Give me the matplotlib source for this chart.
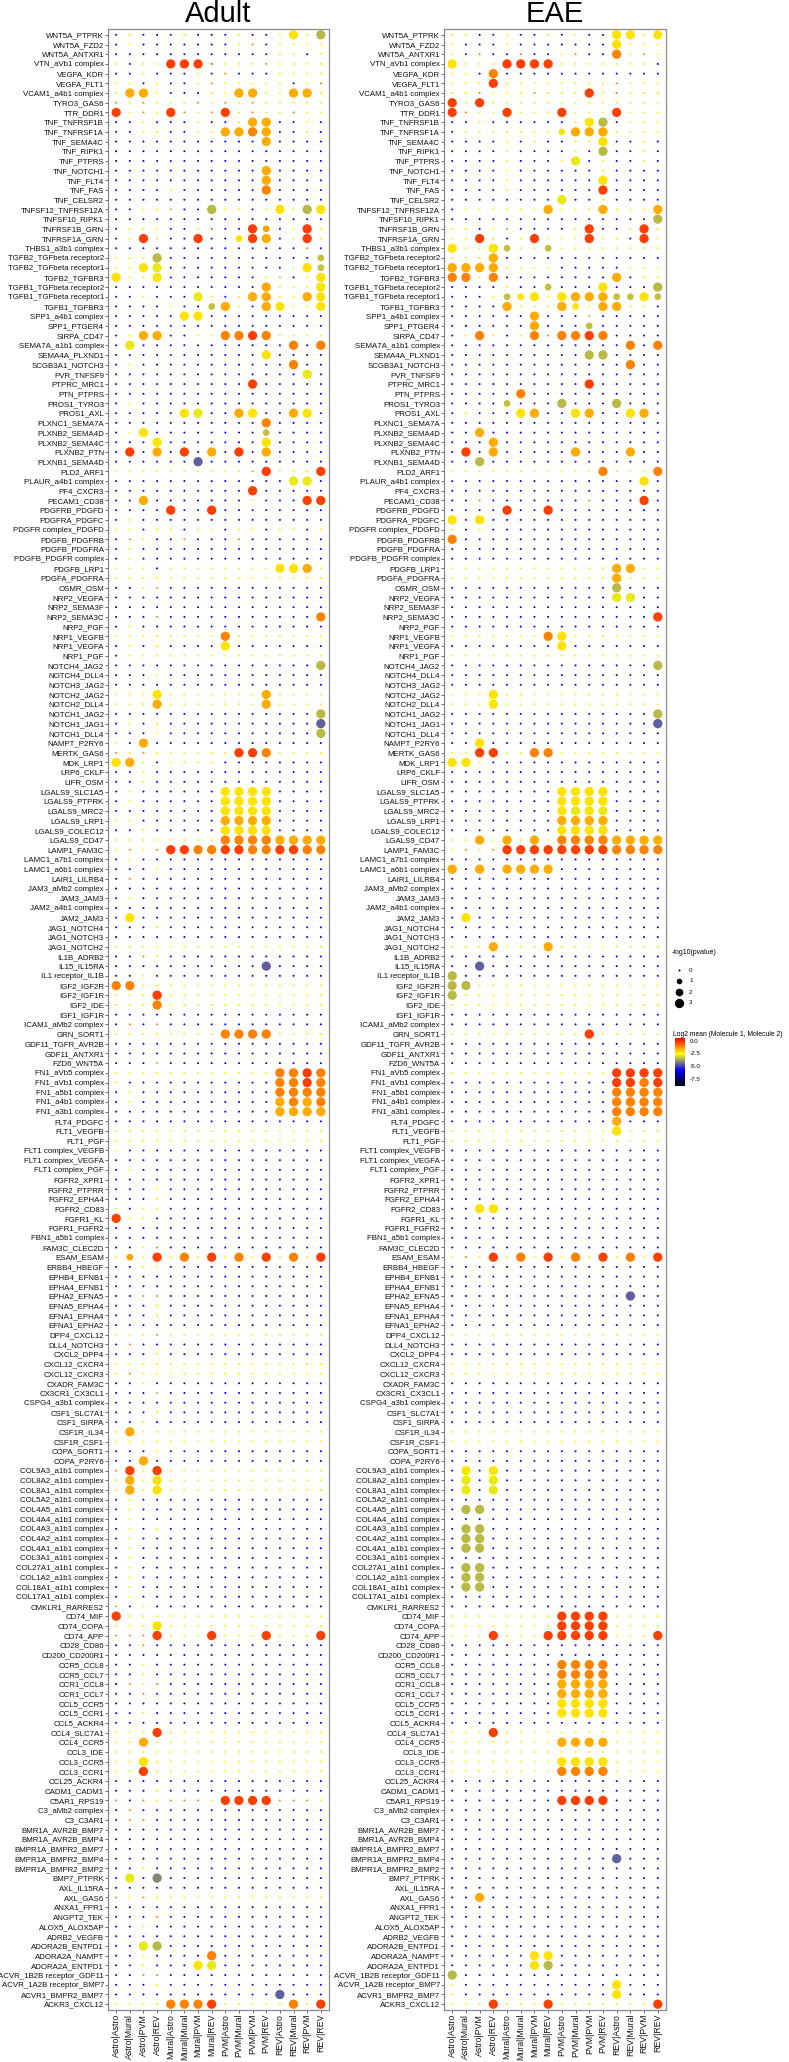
import numpy as np
import matplotlib
matplotlib.use("Agg")
import matplotlib.pyplot as plt
from matplotlib.colors import LinearSegmentedColormap, Normalize
from matplotlib.cm import ScalarMappable

plt.rcParams['font.family'] = ['Liberation Sans', 'DejaVu Sans']

clusters = ["Astro|Astro", "Astro|Mural", "Astro|PVM", "Astro|REV",
            "Mural|Astro", "Mural|Mural", "Mural|PVM", "Mural|REV",
            "PVM|Astro", "PVM|Mural", "PVM|PVM", "PVM|REV",
            "REV|Astro", "REV|Mural", "REV|PVM", "REV|REV"]

pairs = [
"WNT5A_PTPRK","WNT5A_FZD2","WNT5A_ANTXR1","VTN_aVb1 complex","VEGFA_KDR","VEGFA_FLT1",
"VCAM1_a4b1 complex","TYRO3_GAS6","TTR_DDR1","TNF_TNFRSF1B","TNF_TNFRSF1A","TNF_SEMA4C",
"TNF_RIPK1","TNF_PTPRS","TNF_NOTCH1","TNF_FLT4","TNF_FAS","TNF_CELSR2","TNFSF12_TNFRSF12A",
"TNFSF10_RIPK1","TNFRSF1B_GRN","TNFRSF1A_GRN","THBS1_a3b1 complex","TGFB2_TGFbeta receptor2",
"TGFB2_TGFbeta receptor1","TGFB2_TGFBR3","TGFB1_TGFbeta receptor2","TGFB1_TGFbeta receptor1",
"TGFB1_TGFBR3","SPP1_a4b1 complex","SPP1_PTGER4","SIRPA_CD47","SEMA7A_a1b1 complex",
"SEMA4A_PLXND1","SCGB3A1_NOTCH3","PVR_TNFSF9","PTPRC_MRC1","PTN_PTPRS","PROS1_TYRO3",
"PROS1_AXL","PLXNC1_SEMA7A","PLXNB2_SEMA4D","PLXNB2_SEMA4C","PLXNB2_PTN","PLXNB1_SEMA4D",
"PLD2_ARF1","PLAUR_a4b1 complex","PF4_CXCR3","PECAM1_CD38","PDGFRB_PDGFD","PDGFRA_PDGFC",
"PDGFR complex_PDGFD","PDGFB_PDGFRB","PDGFB_PDGFRA","PDGFB_PDGFR complex","PDGFB_LRP1",
"PDGFA_PDGFRA","OSMR_OSM","NRP2_VEGFA","NRP2_SEMA3F","NRP2_SEMA3C","NRP2_PGF","NRP1_VEGFB",
"NRP1_VEGFA","NRP1_PGF","NOTCH4_JAG2","NOTCH4_DLL4","NOTCH3_JAG2","NOTCH2_JAG2","NOTCH2_DLL4",
"NOTCH1_JAG2","NOTCH1_JAG1","NOTCH1_DLL4","NAMPT_P2RY6","MERTK_GAS6","MDK_LRP1","LRP6_CKLF",
"LIFR_OSM","LGALS9_SLC1A5","LGALS9_PTPRK","LGALS9_MRC2","LGALS9_LRP1","LGALS9_COLEC12",
"LGALS9_CD47","LAMP1_FAM3C","LAMC1_a7b1 complex","LAMC1_a6b1 complex","LAIR1_LILRB4",
"JAM3_aMb2 complex","JAM3_JAM3","JAM2_a4b1 complex","JAM2_JAM3","JAG1_NOTCH4","JAG1_NOTCH3",
"JAG1_NOTCH2","IL1B_ADRB2","IL15_IL15RA","IL1 receptor_IL1B","IGF2_IGF2R","IGF2_IGF1R",
"IGF2_IDE","IGF1_IGF1R","ICAM1_aMb2 complex","GRN_SORT1","GDF11_TGFR_AVR2B","GDF11_ANTXR1",
"FZD6_WNT5A","FN1_aVb5 complex","FN1_aVb1 complex","FN1_a5b1 complex","FN1_a4b1 complex",
"FN1_a3b1 complex","FLT4_PDGFC","FLT1_VEGFB","FLT1_PGF","FLT1 complex_VEGFB",
"FLT1 complex_VEGFA","FLT1 complex_PGF","FGFR2_XPR1","FGFR2_PTPRR","FGFR2_EPHA4","FGFR2_CD83",
"FGFR1_KL","FGFR1_FGFR2","FBN1_a5b1 complex","FAM3C_CLEC2D","ESAM_ESAM","ERBB4_HBEGF",
"EPHB4_EFNB1","EPHA4_EFNB1","EPHA2_EFNA5","EFNA5_EPHA4","EFNA1_EPHA4","EFNA1_EPHA2",
"DPP4_CXCL12","DLL4_NOTCH3","CXCL2_DPP4","CXCL12_CXCR4","CXCL12_CXCR3","CXADR_FAM3C",
"CX3CR1_CX3CL1","CSPG4_a3b1 complex","CSF1_SLC7A1","CSF1_SIRPA","CSF1R_IL34","CSF1R_CSF1",
"COPA_SORT1","COPA_P2RY6","COL9A3_a1b1 complex","COL8A2_a1b1 complex","COL8A1_a1b1 complex",
"COL5A2_a1b1 complex","COL4A5_a1b1 complex","COL4A4_a1b1 complex","COL4A3_a1b1 complex",
"COL4A2_a1b1 complex","COL4A1_a1b1 complex","COL3A1_a1b1 complex","COL27A1_a1b1 complex",
"COL1A2_a1b1 complex","COL18A1_a1b1 complex","COL17A1_a1b1 complex","CMKLR1_RARRES2",
"CD74_MIF","CD74_COPA","CD74_APP","CD28_CD86","CD200_CD200R1","CCR5_CCL8","CCR5_CCL7",
"CCR1_CCL8","CCR1_CCL7","CCL5_CCR5","CCL5_CCR1","CCL5_ACKR4","CCL4_SLC7A1","CCL4_CCR5",
"CCL3_IDE","CCL3_CCR5","CCL3_CCR1","CCL25_ACKR4","CADM1_CADM1","C5AR1_RPS19",
"C3_aMb2 complex","C3_C3AR1","BMR1A_AVR2B_BMP7","BMR1A_AVR2B_BMP4","BMPR1A_BMPR2_BMP7",
"BMPR1A_BMPR2_BMP4","BMPR1A_BMPR2_BMP2","BMP7_PTPRK","AXL_IL15RA","AXL_GAS6","ANXA1_FPR1",
"ANGPT2_TEK","ALOX5_ALOX5AP","ADRB2_VEGFB","ADORA2B_ENTPD1","ADORA2A_NAMPT",
"ADORA2A_ENTPD1","ACVR_1B2B receptor_GDF11","ACVR_1A2B receptor_BMP7","ACVR1_BMPR2_BMP7",
"ACKR3_CXCL12"]

# one string per interacting pair, one character per cluster pair
# lowercase = -log10(p) ~ 0 ; uppercase = -log10(p) ~ 3 ; m/n/p = medium size
adult_cells = [
"bybkbybbbybbyYyG","bybbbbbbbyobyyyy","bbbkbbbbkbbbyyby","ybyyRRRryyyoyyyy","bbybbbybobbbyyyy",
"yybybbyoyyyyybyo","yAAybbbyyAAyyAAy","oyoyyyoyoyoyyyyy","RyoyRoyoRyoyyoyy","bbybkbybbyAAbbyb",
"bbyybbyyAAOAbbyb","kbbbbbbbbbbAbbbb","kbbbkbbbbbbbbbbb","kbbbbbbbbbbbbbbb","kbbbbbbbbbbAbbbb",
"bbbbbbbbbbbAbbbb","bbbbybbbbbbObbbb","kbbbkbbkbbbbbbbb","bbyygbbGyybyYyGY","kbkbbbbbkbbbbbbb",
"byyybbyrbbRpbyRy","byRybbRbbnRAbyRy","bbbbbbbbbbbbbbob","yyyGbbbbbbbbbbbm","yyYLbbbbbbbbbyYm",
"YyyYbbbbbbbygbyY","bbbbbbbbbbbAyyyY","bbybbbLybyAAyyAY","bbbbybbmAybAYyyY","bbbbbYYbbbbbbbbb",
"kbkbbbbbbbbbbbbb","byAAbbyyOOROyyyy","bLbbbbbbbbbbbObO","bbbbbbbbbbbYbbbb","bybkbbbbbbbbbObb",
"kbbbbbbbbbbbbbLb","bbbbbbbbbbRbbbbb","bbbbbbbbbbbbbbbb","bybbbbbbbbbbbbbb","bbbbbYLbbAYbbAYb",
"bbbbbbbbbbbObbbb","byYbbbbbbbbmbbbb","bbbYbbbbbbbYbbbb","bRbAbRbAbRbAbbbb","bbbbbbBbbbbbbbbb",
"yyyyyyyyyyoRyyyR","bbbbbbbbbbbbbLLb","bbbbbbbbbbRbbbbb","bbAbbbbbbbybbbRR","bbbbRbbRbbbbbbbb",
"bybbbbbbbbbbbbbb","yybyybyybyybyyby","boybbobbbobbbbbb","bybbbbbbbbbbbbbb","bybbbbbbbbbbbbbb",
"yyybyyyyyyyyYYAy","yyyyyyyyyyyyyyyy","kkyobbbbbbbbbbbb","bbbbbbbbbbbbbbbb","kkkbbbbbbbbbbbbb",
"kbbobbbbbbbbbbbO","kykkbbbbbbbbbbbb","yyyyyyyyOyyyyyyy","bybybbbbYbbbbbbb","byyyyyyyyyyyyyyy",
"bbbbbbbbbbbbbbbG","kkkybbbbbbbbbbbb","kkkkbbbbbbbbbbbb","yyyYyyyyyyyAyyyy","yyyAyyyyyyyAyyyy",
"bkkbbbbbbbbbbbbG","bybybbbbbbbbbbbB","bbkybbbbbbbbbbbG","ybAbbbbbbbbbbbbb","oyoyyyyyyRROyyyy",
"YAybyyyybbbbbbbb","bbybbbbbbbbbbbbb","bbybbbbbbbbbbbbb","bybbbbbbYYYYbbbb","bybbbbbbYYYYbbbb",
"bbbbbbbbYYYYbbbb","yybbbbbbAAAAbbbb","bbybbbbbYYYYbbbb","yyyyyyyyOOOOAAAA","yoyoRROORROORROO",
"bybbbbbbbbbbbbbb","bbbybbbbbbbbbbbb","kobbbbbbbbbbbbbb","kkbbbbbbbbbbbbbb","bykbbbbbbbbbbbbb",
"bbbbbbbbbbbbbbbb","bYbbbbbbbbbbbbbb","bbbybbbbbbbbbbbb","kbkbbbbbbbbbbbbb","yyyyyyyyyyyyyyyy",
"bboybbbbbbbbbbbb","kbbbbbbbbbbBbbbb","bbybbbbbbbbbbbbb","OOyyyyyyyyyyyyyy","yyyRyyyyyyyyyyyy",
"yyyOyyyyyyyyyyyy","bbbbbbbbbbbbbbbb","kobobbbbbbbbbbbb","yyyyyyyyOOOOyyyy","bbbbbbbbbbbbbbbb",
"bbbbbbbbbbbbbbbb","bbbgbbbbbbbbbbbb","yyyyyyyyyyyyOORO","ybbbbbbbbbbbOORO","bybbbbbbbbbbOOOO",
"bybbbbbbbbbbAOAO","bbbbbbbbbbbbAAAA","bbbkbbbbbbbbbbbb","yyyyyyyyyyyyyyyy","yyyyyyyyyyyyyyyy",
"ybbbbbbbbbbbbbbb","bbbbbbbbbbbbbbbb","bybbbbbbbbbbbbbb","bbbbbbbbbbbbbbbb","bbbybbbbbbbbbbbb",
"bbbybbbbbbbbbbbb","ybyybbbbbbbbbbbb","Ryybbbbbbbbbbbbb","bbbbbbbbbbbbbbbb","bbbbbbbbbbbbbbbb",
"bbyobbbbbbbbbbbb","ypyRyOyRyOyRyOyR","kbyybbbbbbbbbbbb","kbkbbbbbbbbbbbbb","bbbbbbbbbbbbbbbb",
"bboobbbbbbbbbbbb","bbbybbbbbbbbbbbb","bbbybbbbbbbbbbbb","bbbbbbbbbbbbbbbb","yyyoyyyyyyyyyyyy",
"bobbbbbbbbbbbbbb","bbbybbbbbbbbbbbb","yyyyyyyyyyyyyyyy","yoyyyyyyyyyyyyyy","bbybbbbbbbbbbbbb",
"bbbgbbbbbbbbbbbb","bbkbbbbbbbbbbbbb","bbbybbbbbbbbbbbb","bbybbbbbbbbbbbbb","yAyyyyyyyyyyyyyy",
"yyyyyyyyyyyyyyyy","bbbybbbbbbbbbbbb","bbAbbbbbbbbbbbbb","oRyRyyyyyyyyyyyy","yAyYyyyyyyyyyyyy",
"yAyYyyyyyyyyyyyy","bybbbbbbbbbbbbbb","bybbbbbbbbbbbbbb","bybbbbbbbbbbbbbb","bybybbbbbbbbbbbb",
"bybbbbbbbbbbbbbb","bybbbbbbbbbbbbbb","kykbbbbbbbbbbbbb","bybbbbbbbbbbbbbb","bybbbbbbbbbbbbbb",
"bybbbbbbbbbbbbbb","bybbbbbbbbbbbbbb","obybbbbbbbbbbbbb","Ryyyyyyyyyyyyyyy","yyyYyyyyyyyyyyyy",
"oooRyyyRyyyRyyyR","kbobbbbbbbbbbbbb","bbbbbbbbbbbbbbbb","bbybbbbbbbbbbbbb","bbybbbbbbbbbbbbb",
"koyobbbbbbbbbbbb","bbobbbbbbbbbbbbb","bbbbbbbbbbbbbbbb","bbybbbbbbbbbbbbb","bbbbbbbbbbbbbbbb",
"yyyRyyyyyyyyyyyy","yyAyyyyyyyyyyyyy","yyyyyyyyyyyyyyyy","yyYyyyyyyyyyyyyy","yyRyyyyyyyyyyyyy",
"bbbbbbbbbbbbbbbb","bbbybbbbbbbbbbbb","oboyoooyRRRRoooy","kobbbbbbbbbbbbbb","boobbbbbbbbbbbbb",
"bbkbbbbbbbbbbbbb","bbkbbbbbbbbbbbbb","bbkbbbbbbbbbbbbb","bbkbbbbbbbbbbbbb","bbybbbbbbbbbbbbb",
"bLbXbbbbbbbbbbbb","kbbbbbbbbbbbbbbb","oyoyyyyyyyyyyyyy","kbbbbbbbbbbbbbbb","bbbobbbbbbbbbbbb",
"bbybbbbbbbbbbbbb","bbbbbbbbbbbbbbbb","bbLGbbbbbbbbbbbb","bbybbbbObbbbbbbb","kbybbbYLbbbbbbbb",
"bboobbbbbbbbbbbb","bbbybbbbbbbbbbbb","bbkbbbbbbbbbBbbb","yyyyOOORyyyyyOyR",
]

eae_cells = [
"yykbybbybybbYYyY","ybbbybbbbbbbYyyy","ybobbobbyobbOyoy","YyyyRRRRyyyyyyyb","yybObbbbbbbbbbbb",
"yyyRyyyyyyyyoyyy","yyoyyyoyyyRyoyyy","RyRyyyyyyyyyyyyy","RoyyRyyyRyyyRyyy","bbybbbbbbyYGbyyy",
"byyyyyyynAAAyyyy","bbbbybybbyyYbbyb","bbbbybbbbybGbbyb","bbbbybbbyLbybbyb","bbbbybbbbbbybbbb",
"bbbbybbbbbbYbbbb","bbbbybbbbbbRbbbb","bbbbbbbbLbbybbbb","byyyyyyAyyyAyyyA","bbbbbbbbbbbbbbbG",
"yybyobbbbyRbbyRy","yyRybyRyyyRyybRy","YyyYmyymyyyyyyyy","yyyAbbbbbbbbbbbb","AAAAyyyybbbbbyyy",
"OOyObbbbbbbbAbyy","bbbbybbmbbbYbbbG","bbbymnYyYAAAmmYm","bbbbAyyyAnyAAyyb","bbbbbbAbbbgbbbbb",
"bkbbbbAbbbmbbbbb","byOybyOoOORObbbb","bbbbbbbbbbbbbObO","bbbbbbbbbbGGbbbb","bbbbbbbbbbbbbObb",
"bbbbbbbbbbbbbbbb","bbbbbbbbbbRbbbbb","bbbbbObbbbbbbbbb","bkbkmbbbGbbbGbbb","bybbbYAbbYAbbYAb",
"bbbbbbbbbbbbbbbb","bbAbbbbbbbbbbbbb","bbbAbbbbbbbbbbbb","bRbAbbbbbAbbbAbb","bbGbbbbbbbbbbbbb",
"yyyyyyyyyyyOyyyO","bbbbbbbbbbbbbbYb","bbbbbbbbbbbbbbbb","bbobbbbbbbobbbRb","bbbbRbbRbbbbbbbb",
"YbYbbbbbbbbbbbbb","ybybbbbbbbbbbbbb","Obbbbbbbbbbbbbbb","bbbbbbbbbbbbbbbb","bbbbbbbbbbbbbbbb",
"yyyyyyyyyyyyAAyy","yyyyyyyyyyyyAyyy","bbbbbbbbbbbbGbbb","bbbbbbbbbbbbLLbb","bbbbbbbbbbbbbbbb",
"bbbbbbbbbbbbbbbR","bbbbbbbbbbbbbbbb","yyyyyyyOYyyyyyyy","bbbbbbbbYbbbbbbb","yyyyyyyyyyyyyyyy",
"bbbbbbbbbbbbbbbG","bbbbbbbbbbbbbbbb","bbbbbbbbbbbbbbbb","yyyYyyyyyyyyyyyy","yyyYyyyyyyyyyyyy",
"bbbbbbbbbbbbbbbG","bbbbbbbbbbbbbbbB","bbbbbbbbbbbbbbbb","bbYbbbbbbbbbbbbb","yyRRyyOOyyyyyyyy",
"YYybbbbbbbbbbbbb","bbbbbbbbbbbbbbbb","bbbbbbbbbbbbbbbb","bbbbbbbbYYYYbbbb","bbbbbbbbYYYYbbbb",
"bbbbbbbbYLYLbbbb","bbbbbbbbAAAAbbbb","bbbbbbbbYYYYbbbb","yyAyAyAyOOOOAAAA","yoyoRRRRRRRROOOO",
"bbbbbbbbbbbbbbbb","AbAbAAAAbbbbbbbb","bbbbbbbbbbbbbbbb","bbbbbbbbbbbbbbbb","bbbbbbbbbbbbbbbb",
"bbbbbbbbbbbbbbbb","bYbbbbbbbbbbbbbb","bbbbbbbbbbbbbbbb","bbbbbbbbbbbbbbbb","yyyAyyyAyyyyyyyy",
"bbbbbbbbbbbbbbbb","bbBbbbbbbbbbbbbb","Gbbbbbbbbbbbbbbb","GGyyyyyyyyyyyyyy","Gyyyyyyyyyyyyyyy",
"yyyyyyyyyyyyyyyy","bbbbbbbbbbbbbbbb","bbbbbbbbbbbbbbbb","yyyyyyyyyyRyyyyy","bbbbbbbbbbbbbbbb",
"bbbbbbbbbbbbbbbb","bbbbbbbbbbbbbbbb","yyyyyyyyyyyyRRRR","bbbbbbbbbbbbRROR","bbbbbbbbbbbbOOOO",
"bbbbbbbbbbbbOOOO","bbbbbbbbbbbbOOOO","bbbbbbbbbbbbAbbb","yyyyyyyyyyyyYyyy","yyyyyyyyyyyyyyyy",
"bbbbbbbbbbbbbbbb","bbbbbbbbbbbbbbbb","bbbbbbbbbbbbbbbb","bbbbbbbbbbbbbbbb","bbbbbbbbbbbbbbbb",
"bbbbbbbbbbbbbbbb","bbYYbbbbbbbbbbbb","bbbbbbbbbbbbbbbb","bbbbbbbbbbbbbbbb","bbbbbbbbbbbbbbbb",
"bbbbbbbbbbbbbbbb","yoyRyOyRyOyRyOyR","bbbbbbbbbbbbbbbb","bbbbbbbbbbbbbbbb","bbbbbbbbbbbbbbbb",
"bbbbbbbbbbbbbBbb","bbbbbbbbbbbbbbbb","bbbbbbbbbbbbbbbb","bbbbbbbbbbbbbbbb","yyyyyyyyyyyyyyyy",
"bbbbbbbbbbbbbbbb","bbbbbbbbbbbbbbbb","yyyyyyyyyyyyyyyy","yyyyyyyyyyyyyyyy","bbbbbbbbbbbbbbbb",
"bbbbbbbbbbbbbbbb","bbbbbbbbbbbbbbbb","bbbbbbbbbbbbbbbb","bbbbbbbbbbbbbbbb","yyyyyyyyyyyyyyyy",
"yyyyyyyyyyyyyyyy","bbbbbbbbbbbbbbbb","bbbbbbbbbbbbbbbb","bYbYbbbbbbbbbbbb","bLbLbbbbbbbbbbbb",
"bLbLbbbbbbbbbbbb","bbbbbbbbbbbbbbbb","bGGbbbbbbbbbbbbb","bbbbbbbbbbbbbbbb","bGGbbbbbbbbbbbbb",
"bGGbbbbbbbbbbbbb","bGGbbbbbbbbbbbbb","bbbbbbbbbbbbbbbb","bGGbbbbbbbbbbbbb","bGGbbbbbbbbbbbbb",
"bGGbbbbbbbbbbbbb","bbbbbbbbbbbbbbbb","bbbbbbbbbbbbbbbb","yyyyyyyyRRRRyyyy","yyyyyyyyRRRRyyyy",
"yyyRyyyRRRRRyyyR","bbbbbbbbbbbbbbbb","bbbbbbbbbbbbbbbb","bbbbbbbbOOOObbbb","bbbbbbbbOOOObbbb",
"bbbbbbbbAAAAbbbb","bbbbbbbbAAAAbbbb","bbbbbbbbYYYYbbbb","bbbbbbbbYYYYbbbb","bbbbbbbbbbbbbbbb",
"yyyRyyyyyyyyyyyy","yyyyyyyyAAAAyyyy","yyyyyyyyyyyyyyyy","yyyyyyyyYYYYyyyy","yyyyyyyyOOOOyyyy",
"bbbbbbbbbbbbbbbb","bbbbbbbbbbbbbbbb","bbbbbbbbRRRRbbbb","bbbbbbbbbbbbbbbb","bbbbbbbbbbbbbbbb",
"bbbbbbbbbbbbbbbb","bbbbbbbbbbbbbbbb","bbbbbbbbbbbbbbbb","bbbbbbbbbbbbBbbb","bbbbbbbbbbbbbbbb",
"bbbbbbbbbbbbbbbb","bbbbbbbbbbbbbbbb","bbAbbbbbbbbbbbbb","bbbbbbbbbbbbbbbb","bbbbbbbbbbbbbbbb",
"bbbbbbbbbbbbbbbb","bbbbbbbbbbbbbbbb","bbbbbbbbbbbbbbbb","bbbbbbYYbbbbbbbb","bbbbbbYGbbbbbbbb",
"Gbbbbbbbbbbbbbbb","ybbbbbbbbbbbYbbb","ybbbbbbbbbbbYbbb","yyyRyyyRyyyyyyyR",
]

code_mean = {"k": -7.6, "b": -6.0, "g": -3.5, "l": -2.9, "y": -2.4, "o": -1.1, "r": -0.3,
             "B": -4.6, "X": -4.1, "G": -3.5, "L": -2.9, "Y": -2.3, "A": -1.6, "O": -1.1,
             "R": -0.3, "m": -3.4, "n": -2.3, "p": -1.5}
code_logp = {c: (3.0 if c.isupper() else 0.0) for c in code_mean}
code_logp.update({"m": 1.5, "n": 1.5, "p": 1.5})

DPI = 100
W, H = 789, 2062
fig = plt.figure(figsize=(W / DPI, H / DPI), dpi=DPI)

cmap = LinearSegmentedColormap.from_list("cpdb", ["black", "blue", "yellow", "red"], N=399)
vmin, vmax = -8.9, 0.5
norm = Normalize(vmin=vmin, vmax=vmax)


def size_for(v):
    d_px = np.sqrt(4.0 + 82.0 * np.asarray(v) / 3.0)
    return (d_px * 72.0 / DPI) ** 2


def panel(x0, x1, rows, title):
    top, bot = 29, 2010
    ax = fig.add_axes([x0 / W, 1 - bot / H, (x1 - x0) / W, (bot - top) / H])
    nr, nc = len(pairs), len(clusters)
    xs, ys, ms, ps = [], [], [], []
    for i in range(nr):
        r = rows[i] if i < len(rows) else ""
        r = r[:nc].ljust(nc, "b")
        for j, ch in enumerate(r):
            xs.append(j)
            ys.append(i)
            ms.append(code_mean.get(ch, -6.0))
            ps.append(code_logp.get(ch, 0.0))
    ax.scatter(xs, ys, s=size_for(ps), c=ms, cmap=cmap, norm=norm, linewidths=0)
    ax.set_xlim(-0.6, nc - 1 + 0.6)
    ax.set_ylim(nr - 1 + 0.6, -0.6)
    ax.set_xticks(range(nc))
    ax.set_xticklabels(clusters, rotation=90, fontsize=6.3, color="#111111")
    ax.set_yticks(range(nr))
    ax.set_yticklabels(pairs, fontsize=5.7, color="#111111")
    ax.tick_params(axis="both", length=2.0, width=0.6, color="#555555", pad=0.8)
    for s in ax.spines.values():
        s.set_color("#8a8a8a")
        s.set_linewidth(0.9)
    fig.text((x0 + x1) / 2 / W, 1 - 14 / H, title, ha="center", va="center", fontsize=21)
    return ax


panel(108, 329, adult_cells, "Adult")
panel(444, 666, eae_cells, "EAE")

# size legend
lg = fig.add_axes([0, 0, 1, 1], facecolor="none")
lg.set_xlim(0, W)
lg.set_ylim(H, 0)
lg.axis("off")
lg.text(672, 953, "-log10(pvalue)", fontsize=5, va="center", ha="left")
for k, yy in zip([0, 1, 2, 3], [970, 981, 992, 1003]):
    lg.scatter([679], [yy], s=size_for(k), color="black", linewidths=0)
    lg.text(689, yy, str(k), fontsize=4.5, va="center", ha="left")
lg.text(673, 1034, "Log2 mean (Molecule 1, Molecule 2)", fontsize=4.9, va="center", ha="left")

cax = fig.add_axes([675 / W, 1 - 1086 / H, 10 / W, 48 / H])
cb = fig.colorbar(ScalarMappable(norm=norm, cmap=cmap), cax=cax)
cb.set_ticks([0, -2.5, -5, -7.5])
cb.set_ticklabels(["0.0", "-2.5", "-5.0", "-7.5"])
cb.ax.tick_params(labelsize=4.5, length=2, width=0.5, color="white", pad=1.5)
cb.outline.set_visible(False)

fig.savefig("out.png", dpi=DPI)
